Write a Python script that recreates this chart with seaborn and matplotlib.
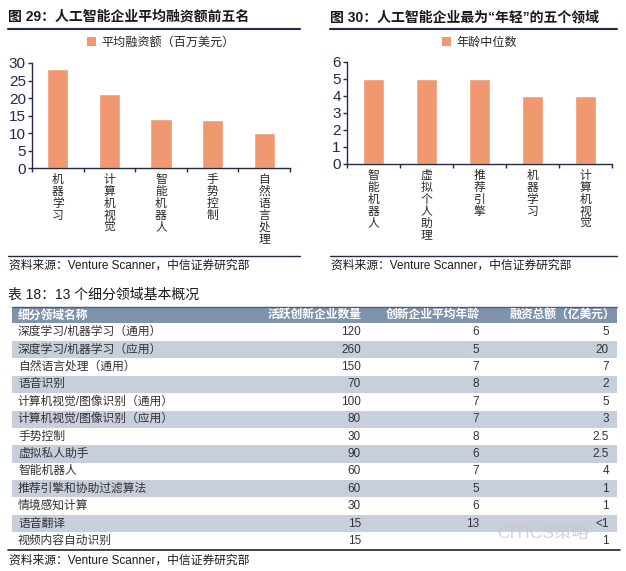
import numpy as np
import pandas as pd
import matplotlib
matplotlib.use("Agg")
import matplotlib.pyplot as plt
import seaborn as sns
from matplotlib.patches import Patch
from matplotlib.lines import Line2D

# ---------------- data ----------------
cats1 = ["机器学习", "计算机视觉", "智能机器人", "手势控制", "自然语言处理"]
vals1 = [28.3, 21.2, 13.9, 13.7, 10.0]
legend1 = "平均融资额（百万美元）"
title1 = "图 29：人工智能企业平均融资额前五名"

cats2 = ["智能机器人", "虚拟个人助理", "推荐引擎", "机器学习", "计算机视觉"]
vals2 = [5, 5, 5, 4, 4]
legend2 = "年龄中位数"
title2 = "图 30：人工智能企业最为“年轻”的五个领域"

source = "资料来源：Venture Scanner，中信证券研究部"

table_title = "表 18：13 个细分领域基本概况"
headers = ["细分领域名称", "活跃创新企业数量", "创新企业平均年龄", "融资总额（亿美元）"]
names = ["深度学习/机器学习（通用）", "深度学习/机器学习（应用）", "自然语言处理（通用）",
         "语音识别", "计算机视觉/图像识别（通用）", "计算机视觉/图像识别（应用）",
         "手势控制", "虚拟私人助手", "智能机器人", "推荐引擎和协助过滤算法",
         "情境感知计算", "语音翻译", "视频内容自动识别"]
counts = ["120", "260", "150", "70", "100", "80", "30", "90", "60", "60", "30", "15", "15"]
ages = ["6", "5", "7", "8", "7", "7", "8", "6", "7", "5", "6", "13", ""]
funding = ["5", "20", "7", "2", "5", "3", "2.5", "2.5", "4", "1", "1", "<1", "1"]
watermark = "CITICS策略"

# ---------------- style ----------------
sns.set_theme(style="white")
plt.rcParams['font.family'] = ['Liberation Sans', 'Noto Sans CJK SC', 'DejaVu Sans']

W, H = 626, 571
fig = plt.figure(figsize=(W / 100, H / 100), dpi=100)

def fx(x):
    return x / W

def fy(y):
    return 1 - y / H

ORANGE = '#F0986F'
NAVY = '#1F2B48'
TXT = '#1a1a1a'
HEADER = '#7F93AD'
GRAYROW = '#C6CFDB'


def bar_panel(rect, cats, vals, ymax, ystep, legend, leg_off):
    ax = fig.add_axes(rect)
    df = pd.DataFrame({"cat": cats, "val": vals})
    sns.barplot(data=df, x="cat", y="val", color=ORANGE, width=0.41,
                saturation=1, ax=ax)
    ax.set_xlim(-0.5, len(cats) - 0.5)
    ax.set_ylim(0, ymax)
    ax.set_yticks(np.arange(0, ymax + 0.01, ystep))
    ax.set_xlabel("")
    ax.set_ylabel("")
    ax.set_xticks(range(len(cats)))
    ax.set_xticklabels(["\n".join(c) for c in cats], fontsize=8.5,
                       linespacing=1.0, color='#2a2a2a')
    ax.set_xticks(np.arange(-0.5, len(cats), 1), minor=True)
    ax.tick_params(axis='x', which='major', length=0, pad=4)
    ax.tick_params(axis='x', which='minor', length=3, width=1, color=NAVY,
                   direction='out', bottom=True)
    ax.tick_params(axis='y', which='major', length=3, width=1, color=NAVY,
                   direction='out', left=True, pad=1.5, labelsize=11,
                   labelcolor=NAVY)
    for s in ['top', 'right']:
        ax.spines[s].set_visible(False)
    for s in ['left', 'bottom']:
        ax.spines[s].set_color(NAVY)
        ax.spines[s].set_linewidth(1)
    ax.legend(handles=[Patch(facecolor=ORANGE, edgecolor='none', label=legend)],
              loc='center', bbox_to_anchor=(0.5, 1 + leg_off), frameon=False,
              handlelength=0.75, handleheight=0.75, handletextpad=0.4,
              fontsize=8.7, borderaxespad=0)
    return ax


ax1 = bar_panel([fx(32), fy(168), 258 / W, 105 / H], cats1, vals1, 30, 5,
                legend1, 20 / 105)
ax2 = bar_panel([fx(347), fy(164), 265 / W, 102 / H], cats2, vals2, 6, 1,
                legend2, 19 / 102)

# titles, rules and sources of the two panels
for x0, x1, title in [(8, 300, title1), (330, 617, title2)]:
    fig.text(fx(x0), fy(17), title, fontsize=10, fontweight='bold',
             color=TXT, ha='left', va='center')
    fig.add_artist(Line2D([fx(x0), fx(x1)], [fy(29), fy(29)], color=NAVY, lw=1.5))
    fig.add_artist(Line2D([fx(x0), fx(x1)], [fy(256), fy(256)], color=NAVY, lw=1.0))
    fig.text(fx(x0 + 1), fy(266), source, fontsize=8.5, color=TXT,
             ha='left', va='center')

# ---------------- table ----------------
tax = fig.add_axes([0, 0, 1, 291 / H])
tax.set_xlim(0, W)
tax.set_ylim(H, 280)
tax.axis('off')

tax.text(8, 295, table_title, fontsize=10, color=TXT, ha='left', va='center')

hdr_top, hdr_bot = 307, 323.5
rh = 17.4
left, right = 12, 617
tax.barh(y=[(hdr_top + hdr_bot) / 2], width=[right - left], left=left,
         height=hdr_bot - hdr_top, color=HEADER, edgecolor='none')
tax.plot([left, right], [hdr_top, hdr_top], color='#4a5d7c', lw=1)

n = len(names)
centers = hdr_bot + rh * (np.arange(n) + 0.5)
row_colors = ['white' if i % 2 == 0 else GRAYROW for i in range(n)]
tax.barh(y=centers, width=[right - left] * n, left=left, height=rh,
         color=row_colors, edgecolor='none')

col_x = [18, 361, 479, 609]
hdr_x = [18, 362, 480, 615]
hy = (hdr_top + hdr_bot) / 2
for j, h in enumerate(headers):
    tax.text(hdr_x[j], hy, h, fontsize=8.5, fontweight='bold', color='white',
             ha='left' if j == 0 else 'right', va='center')

cols = [names, counts, ages, funding]
for i in range(n):
    for j, col in enumerate(cols):
        tax.text(col_x[j], centers[i], col[i], fontsize=8.5, color='#333333',
                 ha='left' if j == 0 else 'right', va='center')

bot = hdr_bot + rh * n
tax.plot([8, 620], [bot, bot], color='#222222', lw=1.2)
tax.text(9, 561, source, fontsize=8.5, color=TXT, ha='left', va='center')

tax.text(543, 533, watermark, fontsize=12.5, color='#c8c8c8', alpha=0.8,
         ha='center', va='center', zorder=10)

fig.savefig("out.png", dpi=100)
